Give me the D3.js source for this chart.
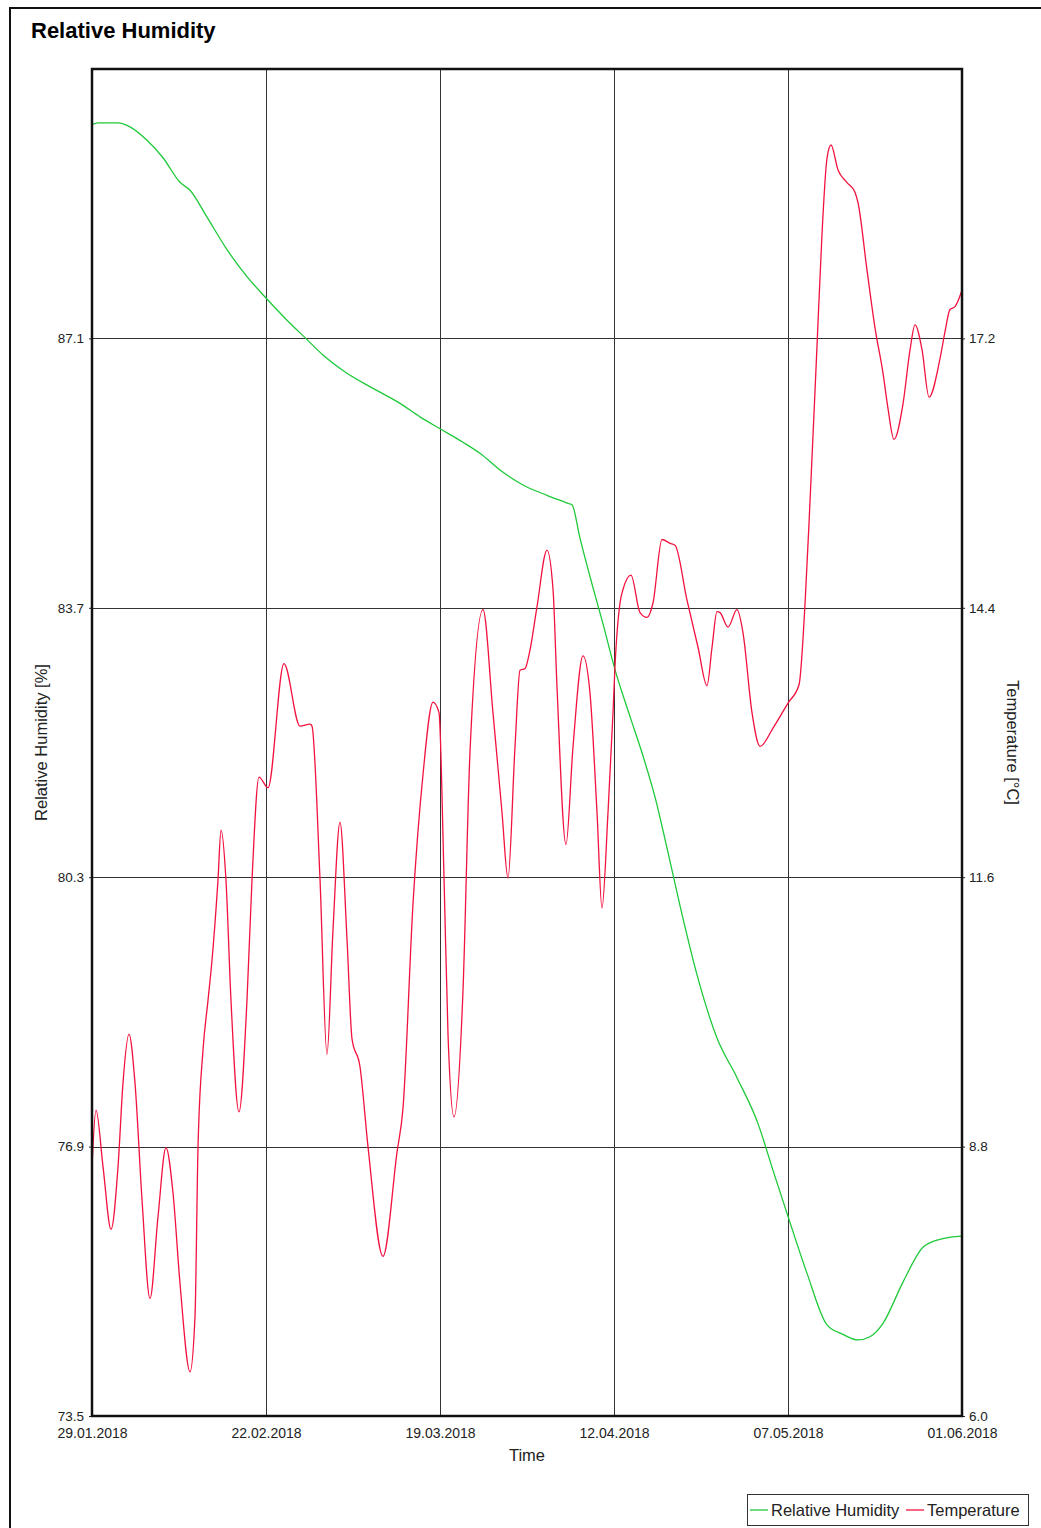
<!DOCTYPE html>
<html>
<head>
<meta charset="utf-8">
<script src="https://cdn.jsdelivr.net/npm/d3@7"></script>
<style>
  body { margin: 0; background: #fff; }
  text { font-family: "Liberation Sans", Arial, sans-serif; fill: #222; }
</style>
</head>
<body>
<div id="chart"></div>
<script>
// days counted from 29.01.2018
const humDays = [0, 0.85, 3.68, 5.37, 7.78, 10.04, 12.44, 13.86, 16.26, 19.09, 21.91, 24.6, 27.57, 30.11,
  32.66, 36.05, 39.73, 43.54, 46.37, 49.2, 52.45, 54.85, 57.68, 60.93, 64.33, 67.58, 67.86, 68.99, 70.69,
  72.24, 73.94, 76.06, 77.9, 79.6, 81.29, 83.13, 85.53, 88.36, 91.19, 94.16, 96.28, 98.4, 101.09, 103.91,
  106.17, 108.3, 109.99, 111.83, 114.66, 117.49, 119.89, 123];
const humValues = [89.8, 89.82, 89.82, 89.77, 89.6, 89.38, 89.07, 88.97, 88.63, 88.22, 87.88, 87.61, 87.33, 87.11,
  86.89, 86.66, 86.47, 86.28, 86.11, 85.96, 85.79, 85.65, 85.44, 85.25, 85.12, 85.01, 85.0, 84.58, 84.0,
  83.5, 82.92, 82.33, 81.83, 81.31, 80.67, 79.94, 79.07, 78.27, 77.77, 77.19, 76.6, 76.02, 75.3, 74.65,
  74.53, 74.46, 74.5, 74.67, 75.19, 75.63, 75.73, 75.77];

const tempDays = [0, 0.57, 1.56, 2.69, 3.68, 4.38, 5.23, 6.08, 7.07, 8.2, 9.33, 10.46, 11.45, 12.44, 13.86,
  14.56, 14.99, 15.69, 16.4, 16.97, 17.81, 18.24, 18.94, 19.65, 20.78, 21.91, 22.62, 23.61, 24.88, 27.14,
  29.41, 30.82, 31.1, 32.23, 33.22, 34.07, 35.06, 36.05, 36.76, 37.89, 39.02, 41.14, 43.12, 43.97, 45.38,
  46.8, 48.21, 49.06, 49.77, 50.33, 51.18, 52.45, 53.44, 55.28, 56.69, 57.97, 58.81, 59.8, 60.51, 61.22,
  61.92, 62.91, 64.33, 65.18, 65.74, 67.01, 68.0, 69.42, 70.41, 71.4, 72.1, 72.95, 73.66, 73.94, 74.65,
  75.07, 76.2, 77.48, 78.47, 79.31, 80.59, 81.72, 82.43, 84.12, 85.68, 86.95, 87.66, 88.36, 88.79, 89.92,
  91.19, 92.04, 93.31, 94.44, 96.28, 98.4, 99.96, 100.8, 101.51, 102.5, 103.21, 103.91, 104.48, 105.47,
  106.74, 107.87, 108.3, 109.57, 110.7, 111.83, 112.54, 113.38, 114.66, 115.65, 116.36, 117.35, 118.34,
  119.89, 120.6, 121.3, 122.01, 123];
const tempValues = [8.6, 9.18, 8.59, 7.94, 8.59, 9.46, 9.97, 9.46, 8.25, 7.22, 8.07, 8.79, 8.32, 7.38, 6.46,
  7.03, 8.8, 9.8, 10.32, 10.74, 11.57, 12.09, 11.57, 10.32, 9.16, 10.32, 11.57, 12.64, 12.53, 13.82,
  13.17, 13.19, 13.17, 11.59, 9.76, 11.05, 12.17, 10.96, 9.92, 9.63, 8.8, 7.66, 8.74, 9.2, 11.32,
  12.67, 13.42, 13.31, 11.59, 9.97, 9.11, 10.42, 12.9, 14.38, 13.31, 12.27, 11.59, 12.95, 13.75, 13.77,
  13.96, 14.41, 15.0, 14.59, 13.58, 11.94, 12.95, 13.9, 13.51, 12.27, 11.28, 12.27, 13.31, 13.79, 14.45,
  14.59, 14.74, 14.35, 14.3, 14.45, 15.11, 15.07, 15.05, 14.48, 13.99, 13.59, 13.99, 14.36, 14.35, 14.2,
  14.38, 14.14, 13.31, 12.96, 13.15, 13.41, 13.6, 14.43, 15.5, 17.12, 18.29, 19.07, 19.21, 18.95,
  18.82, 18.72, 18.61, 17.91, 17.31, 16.84, 16.47, 16.15, 16.52, 17.08, 17.34, 17.08, 16.59,
  16.99, 17.27, 17.5, 17.53, 17.7];

const humTicks = [73.5, 76.9, 80.3, 83.7, 87.1];
const tempTicks = [6.0, 8.8, 11.6, 14.4, 17.2];
const xTickLabels = ["29.01.2018", "22.02.2018", "19.03.2018", "12.04.2018", "07.05.2018", "01.06.2018"];

const width = 1041, height = 1528;
const plot = { left: 92, right: 962, top: 69, bottom: 1416 };
const green = "#1fc93a", red = "#f2123f";

const start = new Date(2018, 0, 29);
const end = new Date(2018, 5, 1);
const toDate = d => new Date(start.getTime() + d * 864e5);

const x = d3.scaleTime().domain([start, end]).range([plot.left, plot.right]);
const yHum = d3.scaleLinear().domain([73.5, 90.5]).range([plot.bottom, plot.top]);
const yTemp = d3.scaleLinear().domain([6.0, 20.0]).range([plot.bottom, plot.top]);

// evenly spaced time ticks, like the original chart
const xTicks = d3.range(xTickLabels.length).map(i => new Date(start.getTime() + i * (end - start) / (xTickLabels.length - 1)));

const svg = d3.select("#chart").append("svg")
  .attr("width", width)
  .attr("height", height);

svg.append("rect").attr("width", width).attr("height", height).attr("fill", "#fff");

// outer frame
svg.append("rect")
  .attr("x", 10).attr("y", 8)
  .attr("width", 1100).attr("height", 1600)
  .attr("fill", "none").attr("stroke", "#111").attr("stroke-width", 2);

svg.append("text")
  .attr("x", 31).attr("y", 38)
  .attr("font-size", 22).attr("font-weight", "bold")
  .style("fill", "#000")
  .text("Relative Humidity");

// grid
const grid = svg.append("g").attr("stroke", "#333").attr("stroke-width", 1).attr("shape-rendering", "crispEdges");
grid.selectAll(".hg").data(humTicks).join("line")
  .attr("x1", plot.left).attr("x2", plot.right)
  .attr("y1", d => Math.round(yHum(d)) + 0.5).attr("y2", d => Math.round(yHum(d)) + 0.5);
grid.selectAll(".vg").data(xTicks).join("line")
  .attr("y1", plot.top).attr("y2", plot.bottom)
  .attr("x1", d => Math.round(x(d)) + 0.5).attr("x2", d => Math.round(x(d)) + 0.5);

// axes
const xAxis = svg.append("g")
  .attr("transform", `translate(0,${plot.bottom})`)
  .call(d3.axisBottom(x).tickValues(xTicks).tickSize(0).tickPadding(12).tickFormat((d, i) => xTickLabels[i]));
xAxis.select(".domain").remove();
xAxis.selectAll("text").attr("font-size", 14).style("fill", "#222").attr("font-family", null);

const leftAxis = svg.append("g")
  .attr("transform", `translate(${plot.left},0)`)
  .call(d3.axisLeft(yHum).tickValues(humTicks).tickSize(3).tickPadding(5).tickFormat(d3.format(".1f")));
leftAxis.select(".domain").remove();
leftAxis.selectAll("text").attr("font-size", 13.5).style("fill", "#222").attr("font-family", null);
leftAxis.selectAll("line").attr("stroke", "#222");

const rightAxis = svg.append("g")
  .attr("transform", `translate(${plot.right},0)`)
  .call(d3.axisRight(yTemp).tickValues(tempTicks).tickSize(3).tickPadding(4).tickFormat(d3.format(".1f")));
rightAxis.select(".domain").remove();
rightAxis.selectAll("text").attr("font-size", 13.5).style("fill", "#222").attr("font-family", null);
rightAxis.selectAll("line").attr("stroke", "#222");

// axis titles
svg.append("text")
  .attr("x", (plot.left + plot.right) / 2).attr("y", 1461)
  .attr("text-anchor", "middle").attr("font-size", 16.5)
  .text("Time");
svg.append("text")
  .attr("transform", `translate(47,${(plot.top + plot.bottom) / 2}) rotate(-90)`)
  .attr("text-anchor", "middle").attr("font-size", 16.5)
  .text("Relative Humidity [%]");
svg.append("text")
  .attr("transform", `translate(1007,${(plot.top + plot.bottom) / 2}) rotate(90)`)
  .attr("text-anchor", "middle").attr("font-size", 16.5)
  .text("Temperature [°C]");

// lines
svg.append("clipPath").attr("id", "clip")
  .append("rect")
  .attr("x", plot.left).attr("y", plot.top)
  .attr("width", plot.right - plot.left).attr("height", plot.bottom - plot.top);

const humData = humDays.map((d, i) => ({ date: toDate(d), value: humValues[i] }));
const tempData = tempDays.map((d, i) => ({ date: toDate(d), value: tempValues[i] }));

const humLine = d3.line().curve(d3.curveMonotoneX).x(d => x(d.date)).y(d => yHum(d.value));
const tempLine = d3.line().curve(d3.curveMonotoneX).x(d => x(d.date)).y(d => yTemp(d.value));

const lines = svg.append("g").attr("clip-path", "url(#clip)");
lines.append("path").datum(humData)
  .attr("d", humLine).attr("fill", "none").attr("stroke", green).attr("stroke-width", 1.3);
lines.append("path").datum(tempData)
  .attr("d", tempLine).attr("fill", "none").attr("stroke", red).attr("stroke-width", 1.3);

// plot frame
svg.append("rect")
  .attr("x", plot.left).attr("y", plot.top)
  .attr("width", plot.right - plot.left).attr("height", plot.bottom - plot.top)
  .attr("fill", "none").attr("stroke", "#111").attr("stroke-width", 2.5);

// legend
const legend = svg.append("g");
legend.append("rect")
  .attr("x", 747.5).attr("y", 1494.5).attr("width", 281).attr("height", 31)
  .attr("fill", "#fff").attr("stroke", "#333");
const items = [{ name: "Relative Humidity", color: green, x: 750 }, { name: "Temperature", color: red, x: 906 }];
items.forEach(it => {
  legend.append("line")
    .attr("x1", it.x).attr("x2", it.x + 18).attr("y1", 1510).attr("y2", 1510)
    .attr("stroke", it.color).attr("stroke-width", 1.3);
  legend.append("text")
    .attr("x", it.x + 21).attr("y", 1516)
    .attr("font-size", 16.5)
    .text(it.name);
});
</script>
</body>
</html>
